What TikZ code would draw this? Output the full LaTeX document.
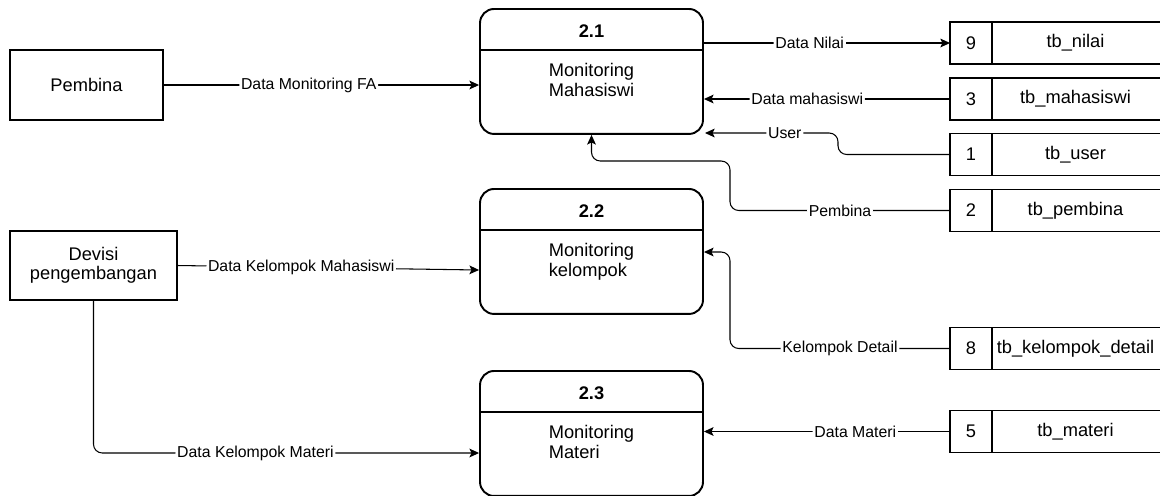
\documentclass[tikz,border=0pt]{standalone}
\usepackage{fontspec}
\setmainfont{Liberation Sans}
\usetikzlibrary{arrows.meta,positioning}
\begin{document}
\begin{tikzpicture}
	[x=0.02cm,y=-0.02cm,
	 procbox/.style={draw,line width=1.1pt,rounded corners=8pt,minimum width=4.46cm,minimum height=2.5cm},
	 entbox/.style={draw,line width=0.7pt,align=center,font=\fontsize{10.4}{11}\selectfont},
	 flow/.style={-{Stealth[length=5.5pt,width=5pt,inset=1.2pt]},line width=0.6pt,rounded corners=5pt},
	 flowlabel/.style={fill=white,inner sep=1pt,font=\fontsize{9}{10}\selectfont}]
\useasboundingbox (0,0) rectangle (1165,495);
% processes
\foreach \n/\y/\ta/\tb in {1/8/Monitoring/Mahasiswi,2/188/Monitoring/kelompok,3/370/Monitoring/Materi}{
	\node[procbox,anchor=north] (p\n) at (591.5,\y) {};
	\draw[line width=1.1pt] ([yshift=-0.84cm]p\n.north west) -- ([yshift=-0.84cm]p\n.north east);
	\node[font=\fontsize{10.4}{12.5}\selectfont\bfseries] at ([yshift=-0.46cm]p\n.north) {2.\n};
	\node[anchor=north,align=left,font=\fontsize{10.4}{11.2}\selectfont] at ([yshift=-0.98cm]p\n.north) {\ta\\\tb};
}
% data stores
\foreach \n/\y/\name in {9/43/tb\_nilai,3/99/tb\_mahasiswi,1/154.5/tb\_user,2/210.5/tb\_pembina,8/348.5/tb\_kelompok\_detail,5/431.5/tb\_materi}{
	\node[minimum width=4.18cm,minimum height=0.83cm,anchor=west] (s\n) at (950,\y) {};
	\draw[line width=0.7pt] (s\n.north east) -- (s\n.north west) -- (s\n.south west) -- (s\n.south east);
	\draw[line width=0.7pt] ([xshift=0.84cm]s\n.north west) -- ([xshift=0.84cm]s\n.south west);
	\node[font=\fontsize{10.4}{12.5}\selectfont] at ([xshift=0.42cm]s\n.west) {\n};
	\node[font=\fontsize{10.4}{12.5}\selectfont] at ([xshift=2.51cm]s\n.west) {\name};
}
% external entities
\node[entbox,minimum width=3.06cm,minimum height=1.4cm] (pem) at (86.5,85) {Pembina};
\node[entbox,minimum width=3.34cm,minimum height=1.38cm] (dev) at (93.5,265.5) {Devisi\\pengembangan};
% flows
\draw[flow] (pem.east) -- node[flowlabel,pos=0.46] {Data Monitoring FA} (p1.west |- pem.east);
\draw[flow] (p1.east |- s9.west) -- node[flowlabel,pos=0.43] {Data Nilai} (s9.west);
\draw[flow] (s3.west) -- node[flowlabel,pos=0.58] {Data mahasiswi} (p1.east |- s3.west);
\draw[flow] (s1.west) -- (838,154.5) -- (838,133) -- node[flowlabel,pos=0.4] {User} (705,133);
\draw[flow] (s2.west) -| node[flowlabel,pos=0.25] {Pembina} (730,161) -| (p1.south);
\draw[flow] (s8.west) -| node[flowlabel,pos=0.25] {Kelompok Detail} (730,252) -- (p2.east |- 0,252);
\draw[flow] (s5.west) -- node[flowlabel,pos=0.385] {Data Materi} (p3.east |- s5.west);
\draw[flow] (dev.east) -- node[flowlabel,pos=0.41] {Data Kelompok Mahasiswi} (p2.west |- 0,270);
\draw[flow] (dev.south) |- node[flowlabel,pos=0.71] {Data Kelompok Materi} (p3.west |- 0,453);
\end{tikzpicture}
\end{document}
